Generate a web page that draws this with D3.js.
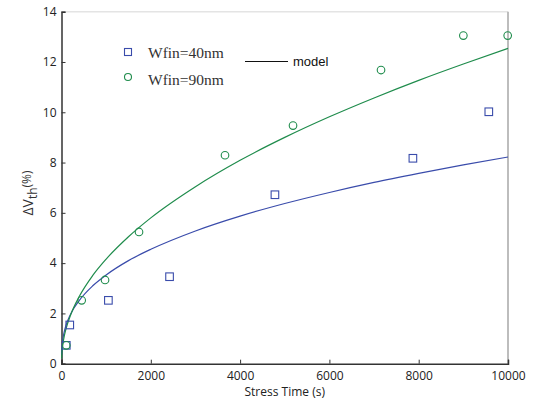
<!DOCTYPE html>
<html>
<head>
<meta charset="utf-8">
<script src="https://cdn.jsdelivr.net/npm/d3@7"></script>
<style>
  body { margin: 0; background: #fff; }
  svg { display: block; }
  .tick text { font-family: "Open Sans", sans-serif; font-size: 12px; fill: #222; }
</style>
</head>
<body>
<div id="chart"></div>
<script>
// measured points (stress time s, dVth %)
var t40 = [107, 185, 1050, 2420, 4780, 7870, 9570];
var v40 = [0.73, 1.54, 2.52, 3.46, 6.72, 8.17, 10.02];
var t90 = [107, 452, 975, 1736, 3662, 5185, 7156, 9000, 9993];
var v90 = [0.73, 2.52, 3.33, 5.24, 8.29, 9.47, 11.68, 13.05, 13.05];

// model curves
var modelT   = [2, 10, 20, 50, 100, 200, 400, 700, 1000, 1500, 2000, 3000, 4000, 5000, 6000, 7000, 8000, 9000, 10000];
var model40  = [0.36, 0.65, 0.84, 1.18, 1.52, 1.96, 2.52, 3.10, 3.53, 4.10, 4.55, 5.28, 5.87, 6.37, 6.81, 7.21, 7.57, 7.91, 8.22];
var model90  = [0.21, 0.46, 0.64, 0.99, 1.38, 1.92, 2.68, 3.51, 4.16, 5.05, 5.80, 7.04, 8.09, 9.00, 9.82, 10.57, 11.27, 11.92, 12.54];

var xTicks = [0, 2000, 4000, 6000, 8000, 10000];
var yTicks = [0, 2, 4, 6, 8, 10, 12, 14];
var legendLabels = ["Wfin=40nm", "Wfin=90nm"];

var blue = "#3a4cab", green = "#1f8c4c";

var W = 533, H = 403;
var margin = {top: 11.7, right: 25, bottom: 39.3, left: 61.5},
    width = W - margin.left - margin.right,
    height = H - margin.top - margin.bottom;

var svg = d3.select("#chart").append("svg")
    .attr("width", W).attr("height", H)
  .append("g")
    .attr("transform", "translate(" + margin.left + "," + margin.top + ")");

var x = d3.scaleLinear().domain([0, 10000]).range([0, width]);
var y = d3.scaleLinear().domain([0, 14]).range([height, 0]);

// frame: light top, grey right
svg.append("line").attr("x1", 0).attr("x2", width).attr("y1", 0).attr("y2", 0)
  .attr("stroke", "#e4e4e4").attr("stroke-width", 1.5);
svg.append("line").attr("x1", width).attr("x2", width).attr("y1", 0).attr("y2", height)
  .attr("stroke", "#bdbdbd").attr("stroke-width", 2);

// axes with inward ticks
var xAxis = svg.append("g")
  .attr("transform", "translate(0," + height + ")")
  .call(d3.axisBottom(x).tickValues(xTicks).tickSize(-4).tickPadding(8).tickFormat(d3.format("d")));
var yAxis = svg.append("g")
  .call(d3.axisLeft(y).tickValues(yTicks).tickSize(-4).tickPadding(5));
[xAxis, yAxis].forEach(function(a) {
  a.select(".domain").attr("stroke", "#333").attr("stroke-width", 1.5);
  a.selectAll(".tick line").attr("stroke", "#333");
});

// model lines
var line = d3.line().curve(d3.curveMonotoneX);
function modelPath(vals, color) {
  svg.append("path")
    .datum(modelT.map(function(t, i) { return [x(t), y(vals[i])]; }))
    .attr("d", line)
    .attr("fill", "none")
    .attr("stroke", color)
    .attr("stroke-width", 1.2);
}
modelPath(model40, blue);
modelPath(model90, green);

// markers
svg.append("g").selectAll("rect")
  .data(t40.map(function(t, i) { return [t, v40[i]]; }))
  .enter().append("rect")
    .attr("x", function(d) { return x(d[0]) - 3.8; })
    .attr("y", function(d) { return y(d[1]) - 3.8; })
    .attr("width", 7.6).attr("height", 7.6)
    .attr("fill", "none").attr("stroke", blue).attr("stroke-width", 1.1);

svg.append("g").selectAll("circle")
  .data(t90.map(function(t, i) { return [t, v90[i]]; }))
  .enter().append("circle")
    .attr("cx", function(d) { return x(d[0]); })
    .attr("cy", function(d) { return y(d[1]); })
    .attr("r", 3.8)
    .attr("fill", "none").attr("stroke", green).attr("stroke-width", 1.1);

// legend
var lg = d3.select("svg").append("g");
lg.append("rect").attr("x", 124.5).attr("y", 48.5).attr("width", 7).attr("height", 7)
  .attr("fill", "none").attr("stroke", blue).attr("stroke-width", 1.1);
lg.append("circle").attr("cx", 128).attr("cy", 77).attr("r", 3.5)
  .attr("fill", "none").attr("stroke", green).attr("stroke-width", 1.1);
lg.selectAll("text.lab").data(legendLabels).enter().append("text")
  .attr("class", "lab")
  .attr("x", 148).attr("y", function(d, i) { return 58 + i * 27; })
  .attr("font-family", "Liberation Serif, serif").attr("font-size", 15.5)
  .attr("fill", "#333").text(function(d) { return d; });
lg.append("line").attr("x1", 245).attr("x2", 288).attr("y1", 61.5).attr("y2", 61.5)
  .attr("stroke", "#111").attr("stroke-width", 1.2);
lg.append("text").attr("x", 293).attr("y", 66)
  .attr("font-family", "Liberation Sans, Arial, sans-serif").attr("font-size", 13)
  .attr("fill", "#111").text("model");

// axis labels
d3.select("svg").append("text")
  .attr("x", margin.left + width / 2).attr("y", 396)
  .attr("text-anchor", "middle")
  .attr("font-family", "Open Sans, sans-serif").attr("font-size", 12)
  .attr("fill", "#222").text("Stress Time (s)");

var yl = d3.select("svg").append("text")
  .attr("transform", "translate(33,193) rotate(-90)")
  .attr("text-anchor", "middle")
  .attr("font-family", "Open Sans, sans-serif").attr("fill", "#333");
yl.append("tspan").attr("font-size", 14).text("ΔV");
yl.append("tspan").attr("font-size", 12).attr("dy", 4).text("th");
yl.append("tspan").attr("font-size", 12).attr("dy", -6).text("(%)");
</script>
</body>
</html>
